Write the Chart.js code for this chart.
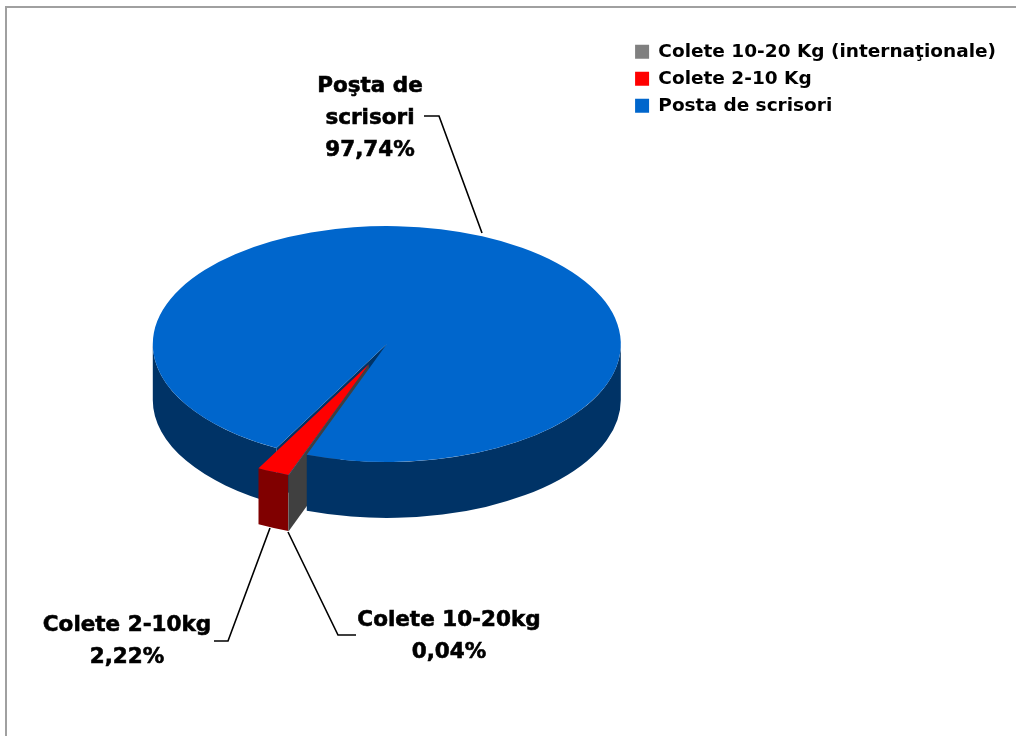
<!DOCTYPE html>
<html>
<head>
<meta charset="utf-8">
<script src="https://cdn.jsdelivr.net/npm/chart.js@4"></script>
<style>
    html, body { margin:0; padding:0; background:#fff; overflow:hidden; }
    canvas { display:block; }
</style>
</head>
<body>
<canvas id="pie" width="1016" height="736"></canvas>
<script>
// data
const categories = ['Colete 10-20 Kg (internaţionale)', 'Colete 2-10 Kg', 'Posta de scrisori'];
const shares = [0.04, 2.22, 97.74];
const sliceNames = [['Colete 10-20kg'], ['Colete 2-10kg'], ['Poşta de', 'scrisori']];

// colors
const topColors = ['#808080', '#ff0000', '#0066cc'];
const wallColors = ['#404040', '#800000', '#003366'];

// 3D look
const squash = 0.504;
const depth = 56;
const pieRadius = 234;
const explode = [44, 44, 0];

// where the slice labels sit: text center x, first line y, then the leader line
const labelSpots = [
    { x:449, y:620, line:[[356,635],[338,635],[288,532]] },
    { x:127, y:625, line:[[214,641],[228,641],[270,528]] },
    { x:370, y:86,  line:[[424,116],[439,116],[482,233]] },
];

// arc position on the flattened pie, c is the pie center
function arcInfo(arc, c){
    return {
        x: arc.x,
        y: c.y + (arc.y - c.y) * squash,
        start: arc.startAngle,
        end: arc.endAngle,
        r: arc.outerRadius,
    };
}
// rounded outside wall, only the part facing us
function outerWall(ctx, a, color){
    ctx.fillStyle = color;
    for(let n = -1; n <= 2; n++){
        const lo = Math.max(a.start, n * 2 * Math.PI);
        const hi = Math.min(a.end, n * 2 * Math.PI + Math.PI);
        if(hi <= lo) continue;
        ctx.beginPath();
        ctx.ellipse(a.x, a.y, a.r, a.r * squash, 0, lo, hi);
        ctx.ellipse(a.x, a.y + depth, a.r, a.r * squash, 0, hi, lo, true);
        ctx.closePath();
        ctx.fill();
    }
}
// flat wall where a slice was cut
function cutWall(ctx, a, color){
    const ox = a.x + Math.cos(a.start) * a.r;
    const oy = a.y + Math.sin(a.start) * a.r * squash;
    ctx.fillStyle = color;
    ctx.beginPath();
    ctx.moveTo(a.x, a.y);
    ctx.lineTo(ox, oy);
    ctx.lineTo(ox, oy + depth);
    ctx.lineTo(a.x, a.y + depth);
    ctx.closePath();
    ctx.fill();
}

const pie3d = {
    id:'pie3d',
    afterDatasetsUpdate(chart){
        // pull the two small slices out together, in one direction
        const arcs = chart.getDatasetMeta(0).data;
        const half = (arcs[0].startAngle + arcs[1].endAngle) / 2;
        arcs.forEach((arc, i) => {
            arc.x += Math.cos(half) * explode[i];
            arc.y += Math.sin(half) * explode[i];
        });
    },
    beforeDraw(chart){
        // frame, it runs off the page to the right and bottom
        const ctx = chart.ctx;
        ctx.save();
        ctx.strokeStyle = '#a0a0a0';
        ctx.lineWidth = 2;
        ctx.beginPath();
        ctx.moveTo(6, 736);
        ctx.lineTo(6, 7);
        ctx.lineTo(1016, 7);
        ctx.stroke();
        ctx.restore();
    },
    beforeDatasetsDraw(chart){
        const ctx = chart.ctx;
        const arcs = chart.getDatasetMeta(0).data;
        const c = arcs[2];
        const infos = arcs.map(arc => arcInfo(arc, c));
        // back to front
        cutWall(ctx, infos[2], wallColors[2]);
        cutWall(ctx, infos[0], wallColors[0]);
        outerWall(ctx, infos[2], wallColors[2]);
        outerWall(ctx, infos[1], wallColors[1]);
        outerWall(ctx, infos[0], wallColors[0]);
        // tops are drawn by chart.js, just flattened
        ctx.save();
        ctx.translate(c.x, c.y);
        ctx.scale(1, squash);
        ctx.translate(-c.x, -c.y);
    },
    afterDatasetsDraw(chart){
        const ctx = chart.ctx;
        ctx.restore();
        ctx.save();
        // leader lines
        ctx.strokeStyle = '#000';
        ctx.lineWidth = 1.6;
        labelSpots.forEach(spot => {
            ctx.beginPath();
            spot.line.forEach((pt, i) => i == 0 ? ctx.moveTo(pt[0], pt[1]) : ctx.lineTo(pt[0], pt[1]));
            ctx.stroke();
        });
        // labels
        ctx.fillStyle = '#000';
        ctx.strokeStyle = '#000';
        ctx.lineWidth = 0.6;
        ctx.font = 'bold 21.5px "DejaVu Sans"';
        ctx.textAlign = 'center';
        ctx.textBaseline = 'middle';
        sliceNames.forEach((lines, i) => {
            const text = lines.concat([shares[i].toFixed(2).replace('.', ',') + '%']);
            text.forEach((t, j) => {
                ctx.fillText(t, labelSpots[i].x, labelSpots[i].y + j * 32);
                ctx.strokeText(t, labelSpots[i].x, labelSpots[i].y + j * 32);
            });
        });
        ctx.restore();
    },
};

new Chart(document.getElementById('pie'), {
    type:'pie',
    data:{
        labels:categories,
        datasets:[{
            data:shares,
            backgroundColor:topColors,
            borderWidth:0,
            radius:pieRadius,
            rotation:200,
            clip:false,
        }],
    },
    options:{
        responsive:false,
        animation:false,
        layout:{
            padding:{ left:147, top:34, bottom:82, right:10 },
        },
        plugins:{
            tooltip:{ enabled:false },
            legend:{
                position:'right',
                align:'start',
                labels:{
                    boxWidth:14,
                    boxHeight:14,
                    padding:8.5,
                    color:'#000',
                    font:{ family:'"DejaVu Sans"', size:18.5, weight:'bold' },
                },
            },
        },
    },
    plugins:[pie3d],
});
</script>
</body>
</html>
